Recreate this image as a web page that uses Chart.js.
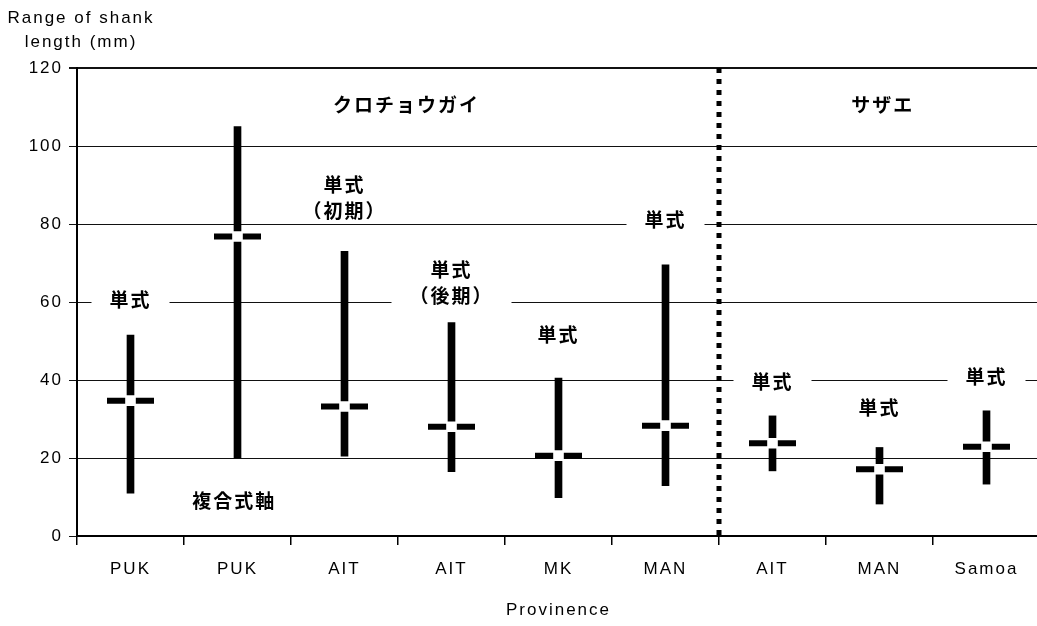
<!DOCTYPE html>
<html>
<head>
<meta charset="utf-8">
<script src="https://cdn.jsdelivr.net/npm/chart.js@4.4.1/dist/chart.umd.min.js"></script>
<style>
html,body{margin:0;padding:0;overflow:hidden;background:#fff}
#wrap{width:1041px;height:626px}
</style>
</head>
<body>
<div id="wrap"><canvas id="myChart"></canvas></div>
<script>
// categories and values
var provinces = ['PUK','PUK','AIT','AIT','MK','MAN','AIT','MAN','Samoa'];
var lowList  = [11, 20, 20.5, 16.5, 9.8, 12.9, 16.7, 8.2, 13.3];
var highList = [51.5, 105, 73, 54.7, 40.5, 69.5, 30.8, 22.7, 32.1];
var meanList = [34.7, 76.8, 33.2, 28, 20.6, 28.3, 23.8, 17.1, 22.9];
var yMin = 0, yMax = 120, yStep = 20;

// text notes: which category, at what value
var noteText = ['単式','複合式軸','単式\n（初期）','単式\n（後期）','単式','単式','単式','単式','単式'];
var noteAt   = [0, 0.97, 2, 3, 4, 5, 6, 7, 8];
var noteVal  = [60.5, 9, 86.6, 65, 51.5, 81, 39.5, 32.8, 40.8];
var groupText = ['クロチョウガイ','サザエ'];
var groupAt   = [2.58, 7.03];
var groupVal  = [110.5, 110.5];
var splitAt = 5.5;

var latin = '"Liberation Sans", Arial, sans-serif';
var cjk = '"Noto Sans CJK JP", sans-serif';

var ranges = lowList.map(function(l, i){ return [l, highList[i]]; });

var notesPlugin = {
  id: 'notes',
  beforeDraw: function(chart){
    chart.ctx.letterSpacing = '2px';
  },
  beforeDatasetsDraw: function(chart){
    var ctx = chart.ctx, xs = chart.scales.x, ys = chart.scales.y;
    ctx.save();
    ctx.font = 'bold 19px ' + cjk;
    ctx.textAlign = 'center';
    ctx.textBaseline = 'middle';
    var lh = 26;
    for (var i = 0; i < noteText.length; i++) {
      var lines = noteText[i].split('\n');
      var px = xs.getPixelForValue(noteAt[i]);
      var py = ys.getPixelForValue(noteVal[i]);
      var w = 0;
      lines.forEach(function(l){ w = Math.max(w, ctx.measureText(l).width); });
      var h = lines.length * lh;
      ctx.fillStyle = '#fff';
      ctx.fillRect(px - w/2 - 18, py - h/2 + 3, w + 36, h - 6);
      ctx.fillStyle = '#000';
      for (var j = 0; j < lines.length; j++) {
        ctx.fillText(lines[j], px, py - h/2 + lh*(j + 0.5));
      }
    }
    for (var k = 0; k < groupText.length; k++) {
      ctx.fillText(groupText[k], xs.getPixelForValue(groupAt[k]), ys.getPixelForValue(groupVal[k]));
    }
    ctx.restore();
  },
  afterDatasetsDraw: function(chart){
    var ctx = chart.ctx, area = chart.chartArea;
    var px = chart.scales.x.getPixelForValue(splitAt);
    ctx.save();
    ctx.strokeStyle = '#000';
    ctx.lineWidth = 5;
    ctx.setLineDash([5, 6]);
    ctx.beginPath();
    ctx.moveTo(px, area.top);
    ctx.lineTo(px, area.bottom + 4);
    ctx.stroke();
    ctx.restore();
  },
  afterDraw: function(chart){
    var ctx = chart.ctx, left = chart.chartArea.left;
    ctx.save();
    ctx.font = '17px ' + latin;
    ctx.fillStyle = '#000';
    ctx.textAlign = 'center';
    ctx.textBaseline = 'middle';
    ctx.fillText('Range of shank', left + 4, 18);
    ctx.fillText('length (mm)', left + 4, 42);
    ctx.restore();
  }
};

var ctx = document.getElementById('myChart').getContext('2d');
var chart = new Chart(ctx, {
  type: 'bar',
  data: {
    labels: provinces,
    datasets: [{
      type: 'line',
      data: meanList,
      showLine: false,
      pointStyle: 'rect',
      pointRadius: 7.5,
      pointBackgroundColor: '#fff',
      pointBorderWidth: 0,
      order: 1
    }, {
      type: 'line',
      data: meanList,
      showLine: false,
      pointStyle: 'line',
      pointRadius: 23.5,
      pointBorderColor: '#000',
      pointBorderWidth: 6,
      order: 2
    }, {
      type: 'bar',
      data: ranges,
      backgroundColor: '#000',
      borderWidth: 0,
      barThickness: 7,
      order: 3
    }]
  },
  options: {
    responsive: true,
    maintainAspectRatio: false,
    animation: false,
    layout: { autoPadding: false, padding: { top: 68, right: 1, bottom: 5, left: 0 } },
    plugins: { legend: { display: false }, tooltip: { enabled: false } },
    scales: {
      x: {
        type: 'category',
        offset: true,
        grid: { offset: true, drawOnChartArea: false, drawTicks: true, tickLength: 9, color: '#000', lineWidth: 1.5 },
        border: { color: '#000', width: 2 },
        ticks: { color: '#000', font: { family: latin, size: 17 }, padding: 14, maxRotation: 0, autoSkip: false },
        title: { display: true, text: 'Provinence', color: '#000', font: { family: latin, size: 17 }, padding: 0 },
        afterFit: function(s){ s.height = 85; s.paddingLeft = 0; s.paddingRight = 0; }
      },
      y: {
        min: yMin,
        max: yMax,
        ticks: { stepSize: yStep, color: '#000', font: { family: latin, size: 17 }, padding: 6 },
        grid: {
          color: '#111',
          tickLength: 8,
          lineWidth: function(c){ return c.tick && c.tick.value === yMax ? 2 : 1; }
        },
        border: { color: '#000', width: 2 },
        afterFit: function(s){ s.width = 77; s.paddingTop = 0; s.paddingBottom = 0; }
      }
    }
  },
  plugins: [notesPlugin]
});
</script>
</body>
</html>
